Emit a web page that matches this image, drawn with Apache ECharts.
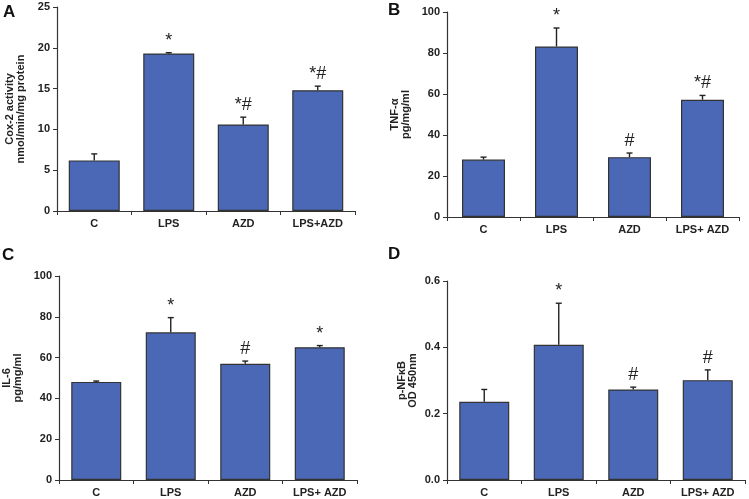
<!DOCTYPE html>
<html>
<head>
<meta charset="utf-8">
<script src="https://cdn.jsdelivr.net/npm/echarts@6/dist/echarts.min.js"></script>
<style>
  html, body { margin: 0; padding: 0; background: #fff; }
  #main { width: 749px; height: 499px; }
</style>
</head>
<body>
<div id="main"></div>
<script>
// data
var catsA = ['C', 'LPS', 'AZD', 'LPS+AZD'];
var catsBCD = ['C', 'LPS', 'AZD', 'LPS+ AZD'];

var coxMean = [6.2, 19.3, 10.6, 14.8];
var coxErr = [0.8, 0.1, 0.9, 0.5];
var coxMarks = ['', '*', '*#', '*#'];

var tnfMean = [28.0, 83.2, 29.2, 57.2];
var tnfErr = [1.2, 9.0, 2.0, 2.1];
var tnfMarks = ['', '*', '#', '*#'];

var il6Mean = [48.1, 72.4, 57.0, 65.1];
var il6Err = [0.4, 7.2, 1.3, 0.8];
var il6Marks = ['', '*', '#', '*'];

var nfkbMean = [0.236, 0.408, 0.273, 0.301];
var nfkbErr = [0.037, 0.125, 0.007, 0.031];
var nfkbMarks = ['', '*', '#', '#'];

var myChart = echarts.init(document.getElementById('main'));

var FONT = 'Liberation Sans, Arial, sans-serif';
var BAR_COLOR = '#4a68b6';

function makeX(idx, cats) {
    return {
        type: 'category',
        gridIndex: idx,
        data: cats,
        axisLine: { lineStyle: { color: '#333', width: 1.2 } },
        axisTick: { show: true, length: 4, lineStyle: { color: '#333' } },
        axisLabel: { color: '#222', fontFamily: FONT, fontWeight: 'bold', fontSize: 11, margin: 7 }
    };
}

function makeY(idx, max, interval, name, gap, fmt) {
    return {
        type: 'value',
        gridIndex: idx,
        min: 0,
        max: max,
        interval: interval,
        name: name,
        nameLocation: 'middle',
        nameRotate: 90,
        nameGap: gap,
        nameTextStyle: { color: '#222', fontFamily: FONT, fontWeight: 'bold', fontSize: 11, lineHeight: 11 },
        splitLine: { show: false },
        axisLine: { show: true, lineStyle: { color: '#333', width: 1.2 } },
        axisTick: { show: true, length: 4, lineStyle: { color: '#333' } },
        axisLabel: { color: '#222', fontFamily: FONT, fontWeight: 'bold', fontSize: 11, margin: 7, formatter: fmt }
    };
}

function makeBar(idx, vals, w) {
    return {
        type: 'bar',
        xAxisIndex: idx,
        yAxisIndex: idx,
        data: vals,
        barWidth: w,
        z: 2,
        itemStyle: { color: BAR_COLOR, borderColor: '#333', borderWidth: 1.2 }
    };
}

function makeErr(idx, vals, errs, marks) {
    var d = [];
    for (var i = 0; i < vals.length; i++) d.push([i, vals[i], errs[i]]);
    return {
        type: 'custom',
        xAxisIndex: idx,
        yAxisIndex: idx,
        data: d,
        z: 3,
        renderItem: function (params, api) {
            var top = api.coord([api.value(0), api.value(1)]);
            var hi = api.coord([api.value(0), api.value(1) + api.value(2)]);
            var s = { stroke: '#222', lineWidth: 1.4 };
            return {
                type: 'group',
                children: [
                    { type: 'line', shape: { x1: top[0], y1: top[1], x2: hi[0], y2: hi[1] }, style: s },
                    { type: 'line', shape: { x1: hi[0] - 3, y1: hi[1], x2: hi[0] + 3, y2: hi[1] }, style: s },
                    {
                        type: 'text',
                        x: hi[0],
                        y: hi[1] - 3,
                        style: {
                            text: marks[params.dataIndex],
                            fill: '#222',
                            font: '18px ' + FONT,
                            align: 'center',
                            verticalAlign: 'bottom'
                        }
                    }
                ]
            };
        }
    };
}

function letter(t, x, y) {
    return { type: 'text', left: x, top: y, style: { text: t, fill: '#111', font: 'bold 17px ' + FONT } };
}

var option = {
    animation: false,
    backgroundColor: '#fff',
    grid: [
        { left: 57, top: 7, width: 298, height: 204 },
        { left: 447, top: 12, width: 292, height: 205 },
        { left: 57, top: 276, width: 300, height: 204 },
        { left: 447, top: 281, width: 298, height: 199 }
    ],
    xAxis: [makeX(0, catsA), makeX(1, catsBCD), makeX(2, catsBCD), makeX(3, catsBCD)],
    yAxis: [
        makeY(0, 25, 5, 'Cox-2 activity\nnmol/min/mg protein', 31),
        makeY(1, 100, 20, 'TNF-α\npg/mg/ml', 36),
        makeY(2, 100, 20, 'IL-6\npg/mg/ml', 36),
        makeY(3, 0.6, 0.2, 'p-NFκB\nOD 450nm', 29, function (v) { return v.toFixed(1); })
    ],
    graphic: [
        letter('A', 3, 4),
        letter('B', 388, 2),
        letter('C', 2, 247),
        letter('D', 388, 246)
    ],
    series: [
        makeBar(0, coxMean, 51), makeErr(0, coxMean, coxErr, coxMarks),
        makeBar(1, tnfMean, 43), makeErr(1, tnfMean, tnfErr, tnfMarks),
        makeBar(2, il6Mean, 50), makeErr(2, il6Mean, il6Err, il6Marks),
        makeBar(3, nfkbMean, 50), makeErr(3, nfkbMean, nfkbErr, nfkbMarks)
    ]
};

myChart.setOption(option);
</script>
</body>
</html>
